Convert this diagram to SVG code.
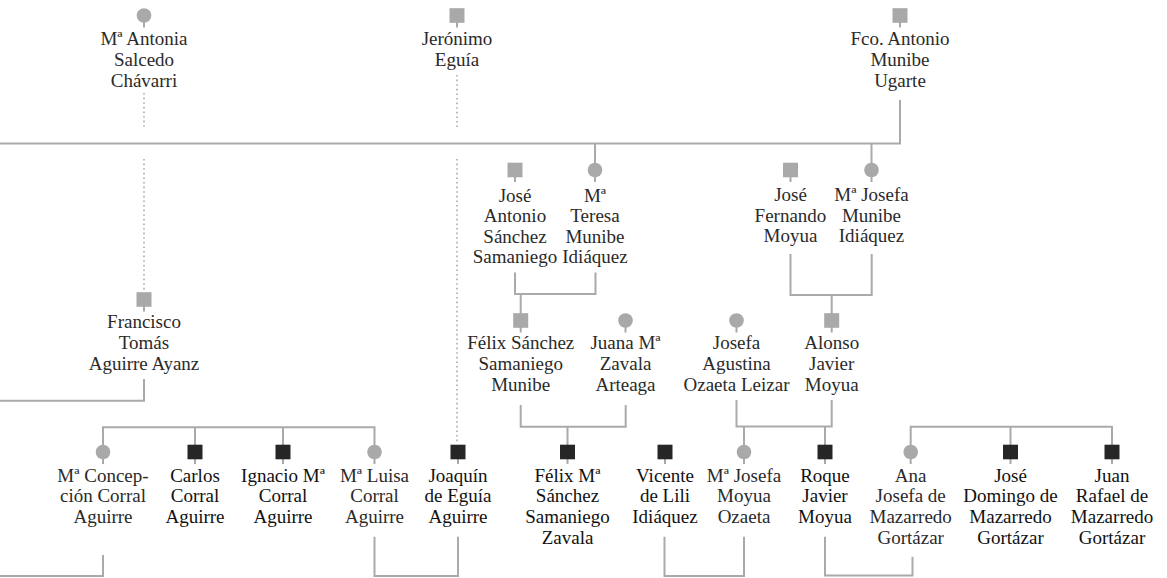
<svg xmlns="http://www.w3.org/2000/svg" width="1167" height="578" viewBox="0 0 1167 578">
  <style>
    .bg { fill: #ffffff; }
    .ln { fill: none; stroke: #aaaaaa; stroke-width: 2; }
    .dot { fill: none; stroke: #aaaaaa; stroke-width: 1.6; stroke-dasharray: 1.6 3; }
    .g { fill: #a9a9a9; }
    .k { fill: #262626; }
    .stem { stroke: #a9a9a9; stroke-width: 2; }
    .b { fill: #111111; }
  </style>
  <defs>
    <g id="f"><line class="stem" x1="0" y1="5" x2="0" y2="12"/><circle class="g" cx="0" cy="0" r="7.3"/></g>
    <g id="m"><line class="stem" x1="0" y1="5" x2="0" y2="12"/><rect class="g" x="-7.5" y="-7.3" width="15" height="14.6"/></g>
    <g id="mk"><line class="stem" x1="0" y1="5" x2="0" y2="12"/><rect class="k" x="-7.5" y="-7.3" width="15" height="14.6"/></g>
  </defs>
  <rect class="bg" x="0" y="0" width="1167" height="578"/>

  <g id="connectors">
    <!-- main line of the Munibe family -->
    <path class="ln" d="M0 143.5 H900 V100"/>
    <path class="ln" d="M595 143.5 V164"/>
    <path class="ln" d="M871.5 143.5 V164"/>
    <!-- dotted descent lines -->
    <path class="dot" d="M144 93 V127 M144 159 V291"/>
    <path class="dot" d="M457 75 V127 M457 159 V444"/>
    <!-- couples and their children -->
    <path class="ln" d="M515 272.5 V294 H595.5 V272.5 M520.7 294 V314"/>
    <path class="ln" d="M790.5 254 V295 H871.7 V254 M831.7 295 V314"/>
    <path class="ln" d="M144 379 V400.7 H0"/>
    <path class="ln" d="M520.7 405 V426.7 H625.7 V405 M567.5 426.7 V445"/>
    <path class="ln" d="M736.5 400 V426.5 H831.7 V400 M744 426.5 V445 M825 426.5 V445"/>
    <path class="ln" d="M103 445 V427.3 H374.5 V445 M195 427.3 V445 M283 427.3 V445"/>
    <path class="ln" d="M910.7 445 V426.7 H1112 V445 M1010.5 426.7 V445"/>
    <path class="ln" d="M103 555 V576 H0"/>
    <path class="ln" d="M374.5 536.7 V576 H458 V536.7"/>
    <path class="ln" d="M664.5 536.7 V576 H744 V536.7"/>
    <path class="ln" d="M825 536.7 V575.5 H912.5 V556.7"/>
  </g>

  <g id="people" font-family="Liberation Serif, Times New Roman, serif" font-size="19" text-anchor="middle" fill="#2a2a2a">
  <!-- first generation -->
  <g id="antonia-salcedo">
    <use href="#f" x="144" y="15.5"/>
    <text x="144" y="45">Mª Antonia<tspan x="144" dy="20.8">Salcedo</tspan><tspan x="144" dy="20.8">Chávarri</tspan></text>
  </g>
  <g id="jeronimo-eguia">
    <use href="#m" x="457" y="15.5"/>
    <text x="457" y="45">Jerónimo<tspan x="457" dy="20.8">Eguía</tspan></text>
  </g>
  <g id="fco-antonio-munibe">
    <use href="#m" x="900" y="15.5"/>
    <text x="900" y="45">Fco. Antonio<tspan x="900" dy="20.8">Munibe</tspan><tspan x="900" dy="20.8">Ugarte</tspan></text>
  </g>

  <!-- second generation -->
  <g id="jose-antonio-sanchez">
    <use href="#m" x="515" y="170"/>
    <text x="515" y="201.5">José<tspan x="515" dy="20.5">Antonio</tspan><tspan x="515" dy="20.5">Sánchez</tspan><tspan x="515" dy="20.5">Samaniego</tspan></text>
  </g>
  <g id="teresa-munibe">
    <use href="#f" x="595" y="170"/>
    <text x="595" y="201.5">Mª<tspan x="595" dy="20.5">Teresa</tspan><tspan x="595" dy="20.5">Munibe</tspan><tspan x="595" dy="20.5">Idiáquez</tspan></text>
  </g>
  <g id="jose-fernando-moyua">
    <use href="#m" x="790.5" y="170"/>
    <text x="790.5" y="201">José<tspan x="790.5" dy="20.5">Fernando</tspan><tspan x="790.5" dy="20.5">Moyua</tspan></text>
  </g>
  <g id="josefa-munibe">
    <use href="#f" x="871.5" y="170"/>
    <text x="871.5" y="201">Mª Josefa<tspan x="871.5" dy="20.5">Munibe</tspan><tspan x="871.5" dy="20.5">Idiáquez</tspan></text>
  </g>
  <g id="francisco-aguirre">
    <use href="#m" x="144" y="299.5"/>
    <text x="144" y="327.5">Francisco<tspan x="144" dy="21">Tomás</tspan><tspan x="144" dy="21">Aguirre Ayanz</tspan></text>
  </g>

  <!-- third generation -->
  <g id="felix-sanchez-munibe">
    <use href="#m" x="520.7" y="320.5"/>
    <text x="520.7" y="349">Félix Sánchez<tspan x="520.7" dy="20.8">Samaniego</tspan><tspan x="520.7" dy="20.8">Munibe</tspan></text>
  </g>
  <g id="juana-zavala">
    <use href="#f" x="625.5" y="320.5"/>
    <text x="625.5" y="349">Juana Mª<tspan x="625.5" dy="20.8">Zavala</tspan><tspan x="625.5" dy="20.8">Arteaga</tspan></text>
  </g>
  <g id="josefa-ozaeta">
    <use href="#f" x="736.5" y="320.5"/>
    <text x="736.5" y="349">Josefa<tspan x="736.5" dy="20.8">Agustina</tspan><tspan x="736.5" dy="20.8">Ozaeta Leizar</tspan></text>
  </g>
  <g id="alonso-moyua">
    <use href="#m" x="831.7" y="320.5"/>
    <text x="831.7" y="349">Alonso<tspan x="831.7" dy="20.8">Javier</tspan><tspan x="831.7" dy="20.8">Moyua</tspan></text>
  </g>

  <!-- fourth generation -->
  <g id="concepcion-corral">
    <use href="#f" x="103" y="452"/>
    <text x="103" y="481.5">Mª Concep-<tspan x="103" dy="20.8">ción Corral</tspan><tspan x="103" dy="20.8">Aguirre</tspan></text>
  </g>
  <g id="carlos-corral">
    <use href="#mk" x="195" y="452"/>
    <text class="b" x="195" y="481.5">Carlos<tspan x="195" dy="20.8">Corral</tspan><tspan x="195" dy="20.8">Aguirre</tspan></text>
  </g>
  <g id="ignacio-corral">
    <use href="#mk" x="283" y="452"/>
    <text class="b" x="283" y="481.5">Ignacio Mª<tspan x="283" dy="20.8">Corral</tspan><tspan x="283" dy="20.8">Aguirre</tspan></text>
  </g>
  <g id="luisa-corral">
    <use href="#f" x="374.5" y="452"/>
    <text x="374.5" y="481.5">Mª Luisa<tspan x="374.5" dy="20.8">Corral</tspan><tspan x="374.5" dy="20.8">Aguirre</tspan></text>
  </g>
  <g id="joaquin-eguia">
    <use href="#mk" x="458" y="452"/>
    <text class="b" x="458" y="481.5">Joaquín<tspan x="458" dy="20.8">de Eguía</tspan><tspan x="458" dy="20.8">Aguirre</tspan></text>
  </g>
  <g id="felix-sanchez-zavala">
    <use href="#mk" x="567.5" y="452"/>
    <text class="b" x="567.5" y="481.5">Félix Mª<tspan x="567.5" dy="20.8">Sánchez</tspan><tspan x="567.5" dy="20.8">Samaniego</tspan><tspan x="567.5" dy="20.8">Zavala</tspan></text>
  </g>
  <g id="vicente-lili">
    <use href="#mk" x="665" y="452"/>
    <text class="b" x="665" y="481.5">Vicente<tspan x="665" dy="20.8">de Lili</tspan><tspan x="665" dy="20.8">Idiáquez</tspan></text>
  </g>
  <g id="josefa-moyua">
    <use href="#f" x="744" y="452"/>
    <text x="744" y="481.5">Mª Josefa<tspan x="744" dy="20.8">Moyua</tspan><tspan x="744" dy="20.8">Ozaeta</tspan></text>
  </g>
  <g id="roque-moyua">
    <use href="#mk" x="825" y="452"/>
    <text class="b" x="825" y="481.5">Roque<tspan x="825" dy="20.8">Javier</tspan><tspan x="825" dy="20.8">Moyua</tspan></text>
  </g>
  <g id="ana-mazarredo">
    <use href="#f" x="910.7" y="452"/>
    <text x="910.7" y="481.5">Ana<tspan x="910.7" dy="20.8">Josefa de</tspan><tspan x="910.7" dy="20.8">Mazarredo</tspan><tspan x="910.7" dy="20.8">Gortázar</tspan></text>
  </g>
  <g id="jose-domingo-mazarredo">
    <use href="#mk" x="1010.5" y="452"/>
    <text class="b" x="1010.5" y="481.5">José<tspan x="1010.5" dy="20.8">Domingo de</tspan><tspan x="1010.5" dy="20.8">Mazarredo</tspan><tspan x="1010.5" dy="20.8">Gortázar</tspan></text>
  </g>
  <g id="juan-rafael-mazarredo">
    <use href="#mk" x="1112" y="452"/>
    <text class="b" x="1112" y="481.5">Juan<tspan x="1112" dy="20.8">Rafael de</tspan><tspan x="1112" dy="20.8">Mazarredo</tspan><tspan x="1112" dy="20.8">Gortázar</tspan></text>
  </g>
  </g>
</svg>
